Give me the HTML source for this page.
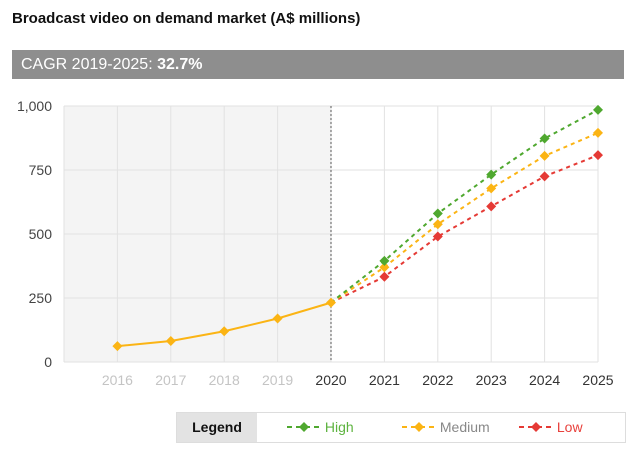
<!DOCTYPE html>
<html><head><meta charset="utf-8"><style>
body{margin:0;width:630px;height:450px;background:#fff;font-family:"Liberation Sans",sans-serif;position:relative;overflow:hidden}
#title{position:absolute;left:12px;top:10px;font-size:15px;font-weight:bold;color:#111}
#cagr{position:absolute;left:12px;top:50px;width:612px;height:29px;background:#8e8e8e;color:#fff;font-size:16px;line-height:29px;box-sizing:border-box;padding-left:9px}
#legend{position:absolute;left:176px;top:412px;width:450px;height:31px;border:1px solid #ddd;box-sizing:border-box;font-size:14px}
#legend .lab{position:absolute;left:0;top:0;width:80px;height:29px;background:#e3e3e3;font-weight:bold;line-height:29px;text-align:center;color:#111}
.li{position:absolute;top:0;line-height:29px}
</style></head><body>
<div id="title">Broadcast video on demand market (A$ millions)</div>
<div id="cagr">CAGR 2019-2025: <b>32.7%</b></div>
<svg id="chart" width="630" height="450" style="position:absolute;left:0;top:0"></svg>
<div id="legend">
<div class="lab">Legend</div>
<div class="li" style="left:110px;color:#5db33f"><svg width="34" height="12" style="vertical-align:-1px"><line x1="0" y1="6" x2="34" y2="6" stroke="#4fa82f" stroke-width="2" stroke-dasharray="5,4"/><path d="M17 1L22 6L17 11L12 6Z" fill="#4fa82f"/></svg> High</div>
<div class="li" style="left:225px;color:#888"><svg width="34" height="12" style="vertical-align:-1px"><line x1="0" y1="6" x2="34" y2="6" stroke="#fbb414" stroke-width="2" stroke-dasharray="5,4"/><path d="M17 1L22 6L17 11L12 6Z" fill="#fbb414"/></svg> Medium</div>
<div class="li" style="left:342px;color:#e8413c"><svg width="34" height="12" style="vertical-align:-1px"><line x1="0" y1="6" x2="34" y2="6" stroke="#e53a35" stroke-width="2" stroke-dasharray="5,4"/><path d="M17 1L22 6L17 11L12 6Z" fill="#e53a35"/></svg> Low</div>
</div>
<script>
const years=[2016,2017,2018,2019,2020,2021,2022,2023,2024,2025];
const histYears=[2016,2017,2018,2019,2020];
const histValues=[62,82,120,170,232];
const foreYears=[2020,2021,2022,2023,2024,2025];
const highValues=[232,395,580,732,873,985];
const mediumValues=[232,370,538,678,805,895];
const lowValues=[232,333,490,608,725,808];
const yTicks=[0,250,500,750,1000];
const yTickLabels=["0","250","500","750","1,000"];

const svg=document.getElementById('chart');
const NS='http://www.w3.org/2000/svg';
const L=64,R=598,T=106,B=362;
const x=y=>L+(y-2015)*(R-L)/10;
const yv=v=>B-v*(B-T)/1000;
function mk(t,a){const e=document.createElementNS(NS,t);for(const k in a)e.setAttribute(k,a[k]);svg.appendChild(e);return e;}
let e=mk('rect',{x:L,y:T,width:x(2020)-L,height:B-T,fill:'#f4f4f4'});


yTicks.forEach((t,i)=>{
 let g=mk('line',{x1:L,x2:R,y1:yv(t),y2:yv(t),stroke:'#e2e2e2','stroke-width':1});
 
 
 let l=mk('text',{x:L-12,y:yv(t)+5,'text-anchor':'end','font-size':14,fill:'#444','font-family':'Liberation Sans'});
 l.textContent=yTickLabels[i];
 
 
});
[2015].concat(years).forEach(yr=>{
 let g=mk('line',{x1:x(yr),x2:x(yr),y1:T,y2:B,stroke:'#e2e2e2','stroke-width':1});
 
 
});
years.forEach(yr=>{
 let l=mk('text',{x:x(yr),y:B+23,'text-anchor':'middle','font-size':14,fill:yr<2020?'#c4c4c4':'#333','font-family':'Liberation Sans'});
 l.textContent=yr;
 
 
});
e=mk('line',{x1:x(2020),x2:x(2020),y1:T,y2:B,stroke:'#555','stroke-width':1,'stroke-dasharray':'2,2'});


function series(xs,vs,color,dash,name){
 let p=mk('polyline',{points:xs.map((yr,i)=>x(yr)+','+yv(vs[i])).join(' '),fill:'none',stroke:color,'stroke-width':2,'stroke-dasharray':dash||''});
 
 
 xs.forEach((yr,i)=>{
  if(dash&&i==0)return;
  const cx=x(yr),cy=yv(vs[i]);
  let d=mk('path',{d:`M${cx} ${cy-5}L${cx+5} ${cy}L${cx} ${cy+5}L${cx-5} ${cy}Z`,fill:color});
  
  
 });
}
series(foreYears,lowValues,'#e53a35','4,4','low');
series(foreYears,mediumValues,'#fbb414','4,4','medium');
series(foreYears,highValues,'#4fa82f','4,4','high');
series(histYears,histValues,'#fbb414',null,'historical');
</script>
</body></html>
